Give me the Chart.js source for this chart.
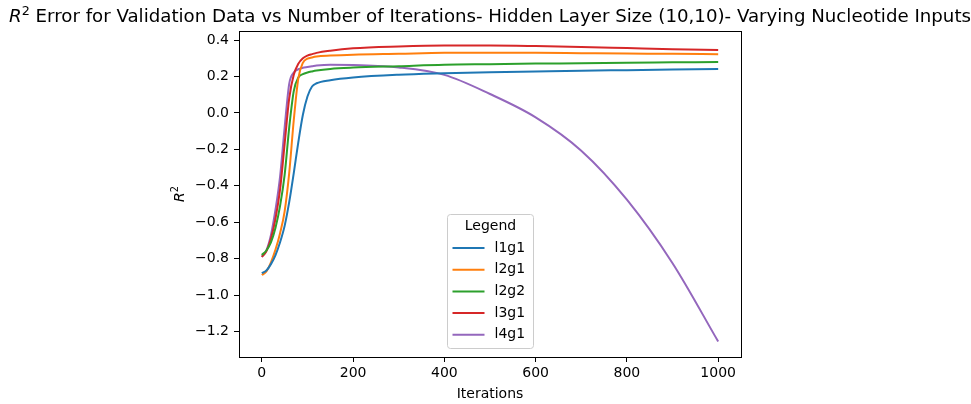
<!DOCTYPE html>
<html>
<head>
<meta charset="utf-8">
<script src="https://cdn.jsdelivr.net/npm/chart.js@4.4.1/dist/chart.umd.min.js"></script>
<style>
  html, body { margin: 0; padding: 0; background: #fff; }
  canvas { display: block; }
</style>
</head>
<body>
<canvas id="chartR2" width="971" height="404"></canvas>
<script>
// values
const iterations = [0, 10, 20, 30, 40, 50, 60, 70, 80, 90, 100, 110, 120, 150, 200, 300, 400, 500, 600, 700, 800, 900, 1000];
const l1g1 = [-0.88, -0.865, -0.83, -0.78, -0.71, -0.62, -0.49, -0.33, -0.16, -0.01, 0.09, 0.145, 0.163, 0.18, 0.195, 0.21, 0.218, 0.224, 0.228, 0.232, 0.235, 0.238, 0.241];
const l2g1 = [-0.89, -0.87, -0.82, -0.75, -0.66, -0.54, -0.33, -0.04, 0.19, 0.275, 0.298, 0.305, 0.31, 0.315, 0.32, 0.325, 0.33, 0.33, 0.33, 0.328, 0.326, 0.325, 0.323];
const l2g2 = [-0.78, -0.755, -0.71, -0.63, -0.51, -0.34, -0.08, 0.12, 0.195, 0.213, 0.222, 0.228, 0.233, 0.242, 0.249, 0.257, 0.265, 0.268, 0.271, 0.273, 0.276, 0.278, 0.28];
const l3g1 = [-0.79, -0.76, -0.69, -0.58, -0.42, -0.17, 0.08, 0.21, 0.27, 0.30, 0.315, 0.323, 0.33, 0.342, 0.355, 0.365, 0.37, 0.37, 0.367, 0.362, 0.356, 0.35, 0.345];
const l4g1 = [-0.79, -0.755, -0.67, -0.53, -0.35, -0.08, 0.16, 0.222, 0.24, 0.248, 0.252, 0.256, 0.26, 0.265, 0.263, 0.25, 0.209, 0.104, -0.024, -0.207, -0.476, -0.825, -1.255];

const seriesNames = ['l1g1', 'l2g1', 'l2g2', 'l3g1', 'l4g1'];
const seriesValues = [l1g1, l2g1, l2g2, l3g1, l4g1];
const seriesColors = ['#1f77b4', '#ff7f0e', '#2ca02c', '#d62728', '#9467bd'];

const xTicks = [0, 200, 400, 600, 800, 1000];
const yTicks = [-1.2, -1.0, -0.8, -0.6, -0.4, -0.2, 0.0, 0.2, 0.4];

const FONT = '"DejaVu Sans", sans-serif';
const TITLE_REST = ' Error for Validation Data vs Number of Iterations- Hidden Layer Size (10,10)- Varying Nucleotide Inputs';

function minusSign(s) {
    return s.replace('-', '\u2212');
}

// draws italic R with superscript 2, then optional rest; returns width
function drawR2(ctx, x, y, size, rest, measureOnly) {
    ctx.font = `italic ${size}px ${FONT}`;
    const wR = ctx.measureText('R').width;
    ctx.font = `${size * 0.7}px ${FONT}`;
    const w2 = ctx.measureText('2').width;
    ctx.font = `${size}px ${FONT}`;
    const wRest = rest ? ctx.measureText(rest).width : 0;
    const total = wR + w2 + wRest;
    if (measureOnly) return total;
    ctx.textBaseline = 'alphabetic';
    ctx.textAlign = 'left';
    ctx.font = `italic ${size}px ${FONT}`;
    ctx.fillText('R', x, y);
    ctx.font = `${size * 0.7}px ${FONT}`;
    ctx.fillText('2', x + wR, y - size * 0.4);
    if (rest) {
        ctx.font = `${size}px ${FONT}`;
        ctx.fillText(rest, x + wR + w2, y);
    }
    return total;
}

const decorPlugin = {
    id: 'decor',
    afterDraw(chart) {
        const ctx = chart.ctx;
        const a = chart.chartArea;
        ctx.save();

        // frame (matplotlib spines)
        ctx.strokeStyle = '#000';
        ctx.lineWidth = 1;
        ctx.strokeRect(Math.round(a.left) + 0.5, Math.round(a.top) + 0.5,
            Math.round(a.right - a.left), Math.round(a.bottom - a.top));

        ctx.fillStyle = '#000';
        const cx = (a.left + a.right) / 2;

        // title
        const tSize = 18.2;
        const tw = drawR2(ctx, 0, 0, tSize, TITLE_REST, true);
        drawR2(ctx, cx - tw / 2, 22, tSize, TITLE_REST, false);

        // x label
        ctx.font = `14px ${FONT}`;
        ctx.textAlign = 'center';
        ctx.textBaseline = 'middle';
        ctx.fillText('Iterations', cx, 394);

        // y label
        ctx.save();
        ctx.translate(184, (a.top + a.bottom) / 2);
        ctx.rotate(-Math.PI / 2);
        const yw = drawR2(ctx, 0, 0, 14, '', true);
        drawR2(ctx, -yw / 2, 0, 14, '', false);
        ctx.restore();

        // legend box
        const bw = 86, bh = 134;
        const bx = Math.round(cx - bw / 2) + 0.5, by = 214.5;
        ctx.beginPath();
        ctx.roundRect(bx, by, bw, bh, 3);
        ctx.fillStyle = 'rgba(255,255,255,0.8)';
        ctx.fill();
        ctx.strokeStyle = '#cccccc';
        ctx.stroke();

        ctx.fillStyle = '#000';
        ctx.font = `14px ${FONT}`;
        ctx.textAlign = 'center';
        ctx.textBaseline = 'middle';
        ctx.fillText('Legend', bx + bw / 2, by + 12);

        ctx.textAlign = 'left';
        chart.data.datasets.forEach((ds, i) => {
            const yy = by + 33.5 + i * 21.7;
            ctx.strokeStyle = ds.borderColor;
            ctx.lineWidth = 2;
            ctx.beginPath();
            ctx.moveTo(bx + 5, yy);
            ctx.lineTo(bx + 37, yy);
            ctx.stroke();
            ctx.fillStyle = '#000';
            ctx.fillText(ds.label, bx + 47, yy);
        });

        ctx.restore();
    }
};

new Chart(document.getElementById('chartR2').getContext('2d'), {
    type: 'line',
    data: {
        datasets: seriesNames.map((name, i) => ({
            label: name,
            data: iterations.map((it, j) => ({ x: it, y: seriesValues[i][j] })),
            borderColor: seriesColors[i],
            backgroundColor: seriesColors[i],
            borderWidth: 2,
            pointRadius: 0,
            cubicInterpolationMode: 'monotone',
            fill: false
        }))
    },
    options: {
        responsive: false,
        animation: false,
        devicePixelRatio: 1,
        layout: { padding: { top: 31, right: 230, left: 0, bottom: 0 } },
        plugins: {
            legend: { display: false },
            title: { display: false },
            tooltip: { enabled: false }
        },
        scales: {
            x: {
                type: 'linear',
                min: -50,
                max: 1050,
                afterBuildTicks: (scale) => { scale.ticks = xTicks.map(v => ({ value: v })); },
                afterFit: (scale) => { scale.height = 47; },
                grid: { drawOnChartArea: false, drawTicks: true, tickLength: 5, tickColor: '#000', color: '#000' },
                border: { display: false },
                ticks: {
                    color: '#000',
                    font: { family: FONT, size: 14 },
                    padding: 3,
                    maxRotation: 0,
                    callback: (v) => String(v)
                }
            },
            y: {
                type: 'linear',
                min: -1.34,
                max: 0.45,
                afterBuildTicks: (scale) => { scale.ticks = yTicks.map(v => ({ value: v })); },
                afterFit: (scale) => { scale.width = 239; },
                grid: { drawOnChartArea: false, drawTicks: true, tickLength: 5, tickColor: '#000', color: '#000' },
                border: { display: false },
                ticks: {
                    color: '#000',
                    font: { family: FONT, size: 14 },
                    padding: 5,
                    callback: (v) => minusSign(Number(v).toFixed(1))
                }
            }
        }
    },
    plugins: [decorPlugin]
});
</script>
</body>
</html>
